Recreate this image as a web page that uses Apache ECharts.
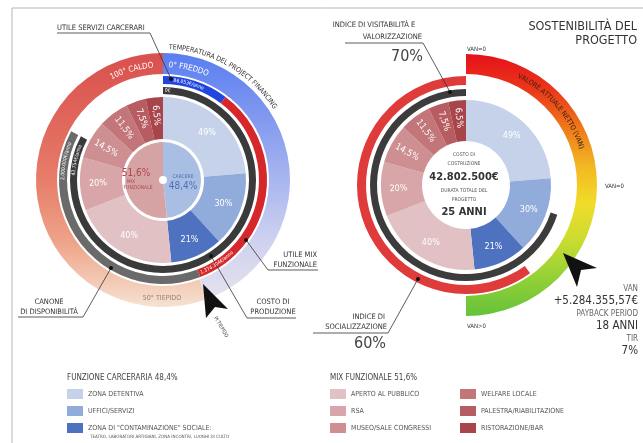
<!DOCTYPE html>
<html>
<head>
<meta charset="utf-8">
<script src="https://cdn.jsdelivr.net/npm/echarts@6/dist/echarts.min.js"></script>
<style>
html,body{margin:0;padding:0;background:#fff}
#chart{width:643px;height:443px}
</style>
</head>
<body>
<div id="chart"></div>
<script>
// --- dati ---
const carcereTotal = 48.4
const mixTotal = 51.6
const carcereNames = ['ZONA DETENTIVA', 'UFFICI/SERVIZI', 'ZONA DI "CONTAMINAZIONE" SOCIALE:']
const carcereShares = [49, 30, 21]
const carcereColors = ['#c5d2ea', '#91abdb', '#4e72c0']
const mixNames = ['APERTO AL PUBBLICO', 'RSA', 'MUSEO/SALE CONGRESSI', 'WELFARE LOCALE', 'PALESTRA/RIABILITAZIONE', 'RISTORAZIONE/BAR']
const mixShares = [40, 20, 14.5, 11.5, 7.5, 6.5]
const mixColors = ['#e1c1c3', '#d8a6a9', '#ce8f93', '#c3767a', '#b75c61', '#a8454a']
const mixRadial = [false, true, true, true, true, true]
// anello temperatura (gradi): lato freddo, lato caldo
const tempSplit = [160, 200]
// anello sottile sinistro: utile servizi carcerari, utile mix funzionale, canone di disponibilita, vuoto
const leftThin = [37, 122, 139, 62]
// costo di produzione
const leftDark = [298, 62]
// VAN: semicerchio
const vanArc = [180, 180]
const socializzazione = 60
const visitabilita = 70

const FF = "'DejaVu Sans Condensed','Liberation Sans Narrow','Roboto Condensed','Noto Sans',sans-serif"
const LC = [163, 180]
const RC = [466, 185]
const NONE = 'rgba(0,0,0,0)'

const chart = echarts.init(document.getElementById('chart'))

function pct(v) { return String(v).replace('.', ',') + '%' }

function middleData() {
    const out = []
    carcereNames.forEach((n, i) => {
        out.push({
            name: n,
            value: carcereTotal * carcereShares[i] / 100,
            itemStyle: { color: carcereColors[i] },
            label: { formatter: pct(carcereShares[i]) }
        })
    })
    mixNames.forEach((n, i) => {
        out.push({
            name: n,
            value: mixTotal * mixShares[i] / 100,
            itemStyle: { color: mixColors[i] },
            label: { formatter: pct(mixShares[i]), rotate: mixRadial[i] ? 'radial' : 0 }
        })
    })
    return out
}

function ring(center, radius, data, clockwise) {
    return {
        type: 'pie', center: center, radius: radius, silent: true,
        clockwise: clockwise !== false, startAngle: 90,
        label: { show: false }, labelLine: { show: false },
        data: data
    }
}

function middleRing(center, radius) {
    return {
        type: 'pie', center: center, radius: radius, silent: true, startAngle: 90,
        label: { show: true, position: 'inside', color: '#fff', fontSize: 9, fontFamily: FF },
        labelLine: { show: false },
        data: middleData()
    }
}

const lg = (stops) => new echarts.graphic.LinearGradient(0, 0, 0, 1, stops.map((c, i) => ({ offset: i / (stops.length - 1), color: c })))

// testo curvo lungo un anello
const mctx = document.createElement('canvas').getContext('2d')
function arcText(str, c, r, centerDeg, size, color, dir, weight) {
    weight = weight || 'normal'
    mctx.font = weight + ' ' + size + 'px ' + FF
    const chars = Array.from(str)
    const ws = chars.map(ch => mctx.measureText(ch).width)
    const total = ws.reduce((a, b) => a + b, 0)
    const start = centerDeg - dir * (total / r) * 90 / Math.PI
    let acc = 0
    return chars.map((ch, i) => {
        const a = (start + dir * (acc + ws[i] / 2) / r * 180 / Math.PI) * Math.PI / 180
        acc += ws[i]
        return {
            type: 'text', z: 100, silent: true,
            x: c[0] + r * Math.sin(a), y: c[1] - r * Math.cos(a),
            rotation: dir === 1 ? -a : Math.PI - a,
            style: { text: ch, fontSize: size, fontFamily: FF, fontWeight: weight, fill: color, textAlign: 'center', textVerticalAlign: 'middle', verticalAlign: 'middle' }
        }
    })
}

function txt(x, y, text, size, color, align, weight, rot) {
    return {
        type: 'text', z: 100, silent: true, x: x, y: y, rotation: rot || 0,
        style: { text: text, fontSize: size, fontFamily: FF, fontWeight: weight || 'normal', fill: color, textAlign: align || 'left', textVerticalAlign: 'middle', verticalAlign: 'middle' }
    }
}

function leader(points) {
    const end = points[points.length - 1]
    return [
        { type: 'polyline', z: 100, silent: true, shape: { points: points }, style: { stroke: '#333', lineWidth: 0.8, fill: null } },
        { type: 'circle', z: 101, silent: true, shape: { cx: end[0], cy: end[1], r: 2 }, style: { fill: '#111' } }
    ]
}

const graphics = [
    // cornice
    { type: 'line', silent: true, shape: { x1: 12, y1: 8, x2: 643, y2: 8 }, style: { stroke: '#b5b5b5', lineWidth: 1 } },
    { type: 'line', silent: true, shape: { x1: 12, y1: 8, x2: 12, y2: 443 }, style: { stroke: '#b5b5b5', lineWidth: 1 } },
    { type: 'circle', z: 100, silent: true, shape: { cx: LC[0], cy: LC[1], r: 4 }, style: { fill: '#fff' } },
    // frecce
    { type: 'polygon', z: 100, silent: true, shape: { points: [[203, 284], [228, 309], [215, 307], [206, 318]] }, style: { fill: '#111' } },
    { type: 'polygon', z: 100, silent: true, shape: { points: [[563, 253], [597, 268], [581, 270], [577, 287]] }, style: { fill: '#111' } },
    // etichette sinistra
    txt(57, 28, 'UTILE SERVIZI CARCERARI', 7.5, '#333'),
    txt(49, 302, 'CANONE', 7.5, '#333', 'center'),
    txt(49, 312, 'DI DISPONIBILITÀ', 7.5, '#333', 'center'),
    txt(317, 255, 'UTILE MIX', 7.5, '#333', 'right'),
    txt(317, 265, 'FUNZIONALE', 7.5, '#333', 'right'),
    txt(273, 302, 'COSTO DI', 7.5, '#333', 'center'),
    txt(273, 312, 'PRODUZIONE', 7.5, '#333', 'center'),
    txt(162, 298, '50° TIEPIDO', 7, '#9c7f6c', 'center'),
    txt(221, 327, 'PI TIEPIDO', 5, '#333', 'center', 'normal', -59 * Math.PI / 180),
    txt(136, 173, '51,6%', 10, '#b0454b', 'center'),
    txt(131, 182, 'MIX', 5, '#a84a50', 'center'),
    txt(138, 188, 'FUNZIONALE', 5, '#a84a50', 'center'),
    txt(183, 177, 'CARCERE', 5, '#4f6fb5', 'center'),
    txt(183, 186, '48,4%', 10, '#4f6fb5', 'center'),
    // etichette destra
    txt(374, 25, 'INDICE DI VISITABILITÀ E', 7.5, '#333', 'center'),
    txt(422, 37, 'VALORIZZAZIONE', 7.5, '#333', 'right'),
    txt(423, 57, '70%', 16, '#444', 'right'),
    txt(637, 27, 'SOSTENIBILITÀ DEL', 12.5, '#333', 'right'),
    txt(637, 41, 'PROGETTO', 12.5, '#333', 'right'),
    txt(467, 49, 'VAN=0', 6, '#333'),
    txt(605, 186, 'VAN=0', 6, '#333'),
    txt(467, 326, 'VAN>0', 6, '#333'),
    txt(385, 317, 'INDICE DI', 7.5, '#333', 'right'),
    txt(387, 327, 'SOCIALIZZAZIONE', 7.5, '#333', 'right'),
    txt(386, 344, '60%', 16, '#444', 'right'),
    txt(464, 155, 'COSTO DI', 5, '#555', 'center'),
    txt(464, 164, 'COSTRUZIONE', 5, '#555', 'center'),
    txt(464, 177, '42.802.500€', 11, '#333', 'center', 'bold'),
    txt(464, 191, 'DURATA TOTALE DEL', 5, '#555', 'center'),
    txt(464, 200, 'PROGETTO', 5, '#555', 'center'),
    txt(464, 212, '25 ANNI', 11, '#333', 'center', 'bold'),
    txt(638, 289, 'VAN', 8, '#666', 'right'),
    txt(638, 301, '+5.284.355,57€', 11.5, '#333', 'right'),
    txt(638, 314, 'PAYBACK PERIOD', 8, '#666', 'right'),
    txt(638, 326, '18 ANNI', 11.5, '#333', 'right'),
    txt(638, 339, 'TIR', 8, '#666', 'right'),
    txt(638, 351, '7%', 11.5, '#333', 'right'),
    // legenda: titoli
    txt(67, 378, 'FUNZIONE CARCERARIA 48,4%', 8, '#444'),
    txt(330, 378, 'MIX FUNZIONALE 51,6%', 8, '#444'),
    txt(90, 437, 'TEATRO, LABORATORI ARTIGIANI, ZONA INCONTRI, LUOGHI DI CULTO', 4.5, '#555')
]
    .concat(leader([[57, 33], [150, 33], [171, 79]]))
    .concat(leader([[18, 317], [83, 317], [111, 268]]))
    .concat(leader([[318, 270], [268, 270], [246, 240]]))
    .concat(leader([[296, 318], [247, 318], [211, 256]]))
    .concat(leader([[345, 43], [423, 43], [450, 92]]))
    .concat(leader([[313, 333], [388, 333], [418, 279]]))
    .concat(arcText('TEMPERATURA DEL PROJECT FINANCING', LC, 133, 30, 7, '#333', 1))
    .concat(arcText('100° CALDO', LC, 115, -16, 8, '#fff', 1))
    .concat(arcText('0° FREDDO', LC, 115, 13, 8, '#fff', 1))
    .concat(arcText('86.053€/anno', LC, 100, 15, 5, '#fff', 1))
    .concat(arcText('0€', LC, 89.5, 3, 5, '#fff', 1))
    .concat(arcText('1.374.304€/anno', LC, 100, 147, 5, '#fff', -1))
    .concat(arcText('2.000.000€/anno', LC, 100, 281, 5, '#fff', 1))
    .concat(arcText('43.754€/anno', LC, 89.5, 283, 5, '#fff', 1))
    .concat(arcText('VALORE ATTUALE NETTO (VAN)', RC, 121, 49, 7, '#3a2210', 1))

const legendBase = {
    orient: 'vertical', icon: 'rect', itemWidth: 16, itemHeight: 10, itemGap: 7, padding: 0,
    selectedMode: false, textStyle: { fontSize: 7, color: '#555', fontFamily: FF }
}

const option = {
    animation: false,
    backgroundColor: '#fff',
    legend: [
        Object.assign({}, legendBase, { data: carcereNames, left: 67, top: 389 }),
        Object.assign({}, legendBase, { data: mixNames.slice(0, 3), left: 330, top: 389 }),
        Object.assign({}, legendBase, { data: mixNames.slice(3), left: 460, top: 389 })
    ],
    series: [
        // --- grafico sinistro ---
        ring(LC, [106, 127], [
            { name: 'freddo', value: tempSplit[0], itemStyle: { color: lg(['#5a7ef1', '#7f97ef', '#a6b4ef', '#cdd0ef', '#e6e3ee']) } },
            { name: 'caldo', value: tempSplit[1], itemStyle: { color: lg(['#d9504e', '#e0655a', '#e77d69', '#eea58a', '#f6e2d2']) } }
        ]),
        ring(LC, [96, 104], [
            { name: 'utile carcere', value: leftThin[0], itemStyle: { color: '#2145df' } },
            { name: 'utile mix', value: leftThin[1], itemStyle: { color: '#d6282b' } },
            { name: 'canone', value: leftThin[2], itemStyle: { color: '#6a6a6a' } },
            { name: 'vuoto1', value: leftThin[3], itemStyle: { color: NONE } }
        ]),
        ring(LC, [86, 93], [
            { name: 'costo', value: leftDark[0], itemStyle: { color: '#3a3a3a' } },
            { name: 'vuoto2', value: leftDark[1], itemStyle: { color: NONE } }
        ]),
        middleRing(LC, [41, 83]),
        ring(LC, [0, 38], [
            { name: 'CARCERE', value: carcereTotal, itemStyle: { color: '#a9bee3' } },
            { name: 'MIX', value: mixTotal, itemStyle: { color: '#d6a3a5' } }
        ]),
        // --- grafico destro ---
        ring(RC, [111, 131], [
            { name: 'van', value: vanArc[0], itemStyle: { color: lg(['#e6101b', '#ea3a19', '#ef7a1b', '#f3b822', '#f1dc28', '#c9dc30', '#92d036', '#64c33a']) } },
            { name: 'vuoto3', value: vanArc[1], itemStyle: { color: NONE } }
        ]),
        ring(RC, [100, 109], [
            { name: 'socializzazione', value: socializzazione, itemStyle: { color: '#e03b3b' } },
            { name: 'vuoto4', value: 100 - socializzazione, itemStyle: { color: NONE } }
        ], false),
        ring(RC, [89, 96], [
            { name: 'visitabilita', value: visitabilita, itemStyle: { color: '#3c3c3c' } },
            { name: 'vuoto5', value: 100 - visitabilita, itemStyle: { color: NONE } }
        ], false),
        middleRing(RC, [44, 85])
    ],
    graphic: graphics
}

chart.setOption(option)
</script>
</body>
</html>
